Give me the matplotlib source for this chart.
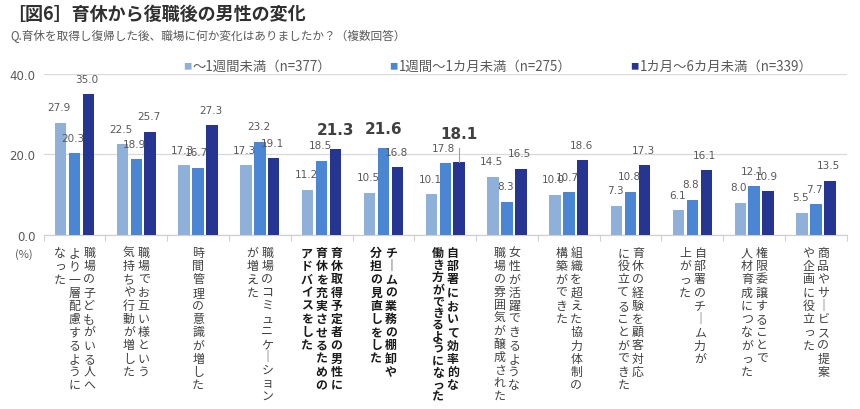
import matplotlib
matplotlib.use("Agg")
import matplotlib.pyplot as plt
import numpy as np

plt.rcParams['font.family'] = ['Noto Sans CJK JP', 'DejaVu Sans']

title = "［図6］育休から復職後の男性の変化"
subtitle = "Q.育休を取得し復帰した後、職場に何か変化はありましたか？（複数回答）"
series_names = ["～1週間未満（n=377）", "1週間～1カ月未満（n=275）", "1カ月～6カ月未満（n=339）"]
colors = ["#8FB0D8", "#4A86D4", "#273592"]

categories = [
    ["職場の子どもがいる人へ", "より一層配慮するように", "なった"],
    ["職場でお互い様という", "気持ちや行動が増した"],
    ["時間管理の意識が増した"],
    ["職場のコミュニケーション", "が増えた"],
    ["育休取得予定者の男性に", "育休を充実させるための", "アドバイスをした"],
    ["チームの業務の棚卸や", "分担の見直しをした"],
    ["自部署において効率的な", "働き方ができるようになった"],
    ["女性が活躍できるような", "職場の雰囲気が醸成された"],
    ["組織を超えた協力体制の", "構築ができた"],
    ["育休の経験を顧客対応", "に役立てることができた"],
    ["自部署のチーム力が", "上がった"],
    ["権限委譲することで", "人材育成につながった"],
    ["商品やサービスの提案", "や企画に役立った"],
]
bold_categories = [4, 5, 6]

s1 = [27.9, 22.5, 17.3, 17.3, 11.2, 10.5, 10.1, 14.5, 10.0, 7.3, 6.1, 8.0, 5.5]
s2 = [20.3, 18.9, 16.7, 23.2, 18.5, 21.6, 17.8, 8.3, 10.7, 10.8, 8.8, 12.1, 7.7]
s3 = [35.0, 25.7, 27.3, 19.1, 21.3, 16.8, 18.1, 16.5, 18.6, 17.3, 16.1, 10.9, 13.5]
series = [s1, s2, s3]

# highlighted labels: (category index, series index)
highlights = [(4, 2), (5, 1), (6, 2)]

fig = plt.figure(figsize=(8.6, 4.1), dpi=100)
ax = fig.add_axes([0.0507, 0.4244, 0.934, 0.3927])

n = len(categories)
x = np.arange(n)
width = 0.185
offsets = [-0.225, 0.0, 0.225]
gray = "#595959"

for si, (vals, col, off) in enumerate(zip(series, colors, offsets)):
    ax.bar(x + off, vals, width=width, color=col, zorder=3)
    for ci, v in enumerate(vals):
        if (ci, si) in highlights:
            continue
        ax.annotate(f"{v:.1f}", xy=(ci + off, v), xytext=(-1, 7.5),
                    textcoords="offset points", ha="center", va="bottom",
                    fontsize=7.5, color=gray, family=['DejaVu Sans'], zorder=5)

for ci, si in highlights:
    v = series[si][ci]
    off = offsets[si]
    extra = 14 if ci == 6 else 8
    ax.annotate(f"{v:.1f}", xy=(ci + off, v), xytext=(0, extra + 1),
                textcoords="offset points", ha="center", va="bottom",
                fontsize=11, fontweight="bold", color="#404040",
                family=['DejaVu Sans'], zorder=5)
    if ci == 6:
        ax.plot([ci + off, ci + off], [v, v + 3.6], color="#a0a0a0", lw=0.8, zorder=4)

ax.set_xlim(-0.5, n - 0.5)
ax.set_ylim(0, 40)
ax.set_yticks([0, 20, 40])
ax.set_yticklabels(["0.0", "20.0", "40.0"], family=['DejaVu Sans'])
ax.tick_params(axis='y', length=0, labelsize=8.5, labelcolor=gray, pad=6)
ax.grid(axis='y', color="#d9d9d9", lw=0.9, zorder=0)
ax.set_xticks(np.arange(n + 1) - 0.5)
ax.set_xticklabels([])
ax.tick_params(axis='x', length=4, color="#d0d0d0", width=0.8)
for sp in ["top", "right", "left"]:
    ax.spines[sp].set_visible(False)
ax.spines["bottom"].set_color("#d0d0d0")
ax.spines["bottom"].set_linewidth(0.9)

# vertical category labels
col_pitch = 10.6   # points
top_off = 8.0      # points
box_h = 112.0      # points available for a column
for ci, cols in enumerate(categories):
    ncol = len(cols)
    weight = "bold" if ci in bold_categories else "normal"
    color = "#1a1a1a" if ci in bold_categories else "#404040"
    for k, text in enumerate(cols):
        dx = ((ncol - 1) / 2 - k) * col_pitch
        pitch = min(9.5, box_h / len(text))
        for j, ch in enumerate(text):
            c = "｜" if ch == "ー" else ch
            ax.annotate(c, xy=(ci, 0), xycoords=('data', 'axes fraction'),
                        xytext=(dx, -top_off - j * pitch), textcoords='offset points',
                        ha='center', va='top', fontsize=8.6, fontweight=weight,
                        color=color, annotation_clip=False)

fig.text(0.018, 0.378, "(%)", fontsize=8, color=gray, ha='left', va='center')

fig.text(0.008, 0.965, title, fontsize=13, fontweight='bold', color="#303030",
         ha='left', va='center')
fig.text(0.012, 0.912, subtitle, fontsize=8.4, color=gray, ha='left', va='center')

legend_x = [0.213, 0.453, 0.733]
for lx, name, col in zip(legend_x, series_names, colors):
    fig.text(lx, 0.838, "■", fontsize=6, color=col, ha='left', va='center')
    fig.text(lx + 0.011, 0.838, name, fontsize=9.6, color=gray, ha='left', va='center')

fig.savefig("out.png", dpi=100)
